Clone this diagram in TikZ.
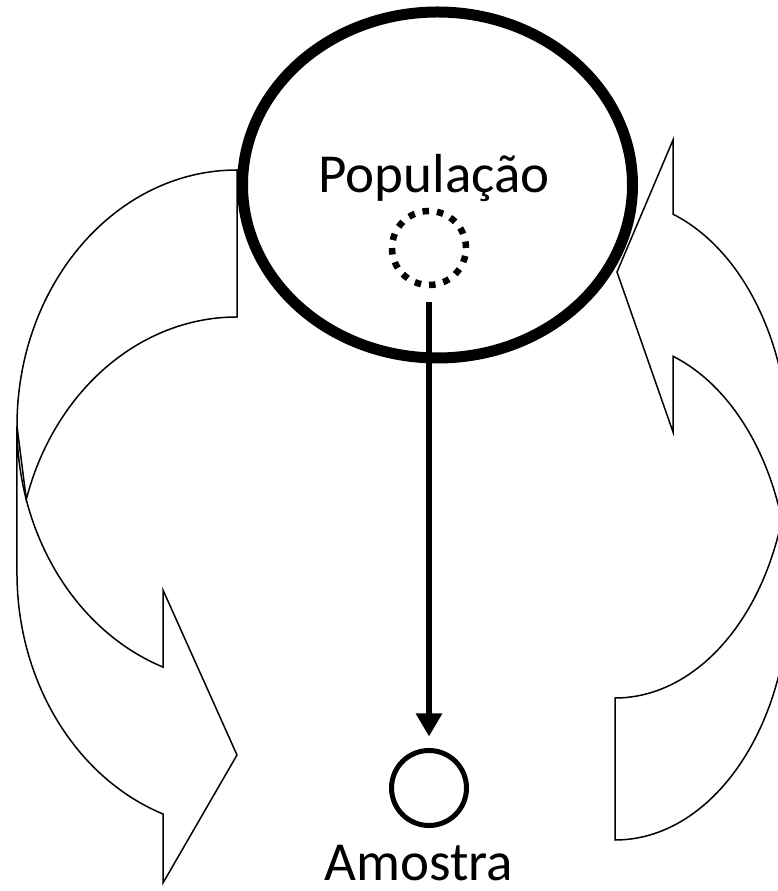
\documentclass[tikz,border=0pt]{standalone}
\usepackage{fontspec}
\setmainfont{Carlito}
\usetikzlibrary{arrows.meta}
\begin{document}
\begin{tikzpicture}[x=1pt,y=1pt,
  bigarrow/.style={draw=black, line width=1.5pt, line join=miter},
  lbl/.style={font=\fontsize{55}{60}\selectfont, text=black, inner sep=0pt, anchor=base}]
\useasboundingbox (0,0) rectangle (778,891);
\clip (0,0) rectangle (778,891);
% left curved arrow: back part
\draw[bigarrow] (17,465) arc[start angle=180,end angle=90,x radius=220,y radius=256]
  -- (237,574) arc[start angle=90,end angle=163.3,x radius=220,y radius=256] -- cycle;
% left curved arrow: front part
\draw[bigarrow] (17,465) arc[start angle=180,end angle=250.35,x radius=220,y radius=256]
  -- (163,301) -- (237,136) -- (163,8) -- (163,77)
  arc[start angle=250.35,end angle=180,x radius=220,y radius=256] -- cycle;
% right curved arrow: back part
\draw[bigarrow] (789,300) arc[start angle=0,end angle=-90,x radius=174,y radius=249]
  -- (615,193) arc[start angle=-90,end angle=-16.57,x radius=174,y radius=249] -- cycle;
% right curved arrow: front part
\draw[bigarrow] (789,300) arc[start angle=0,end angle=70.53,x radius=174,y radius=249]
  -- (673,459) -- (617,619) -- (673,751) -- (673,676.8)
  arc[start angle=70.53,end angle=0,x radius=174,y radius=249] -- cycle;
% population
\draw[line width=11pt] (437.5,706) ellipse [x radius=195, y radius=173];
\node[lbl] (poptext) at (434,698) {População};
\node[circle, draw, line width=6.5pt, dash pattern=on 6.5pt off 8.03pt, minimum size=74pt, inner sep=0pt] (sub) at (429,643) {};
% sample
\node[circle, draw, line width=5pt, minimum size=75pt, inner sep=0pt] (samp) at (429,103) {};
\node[lbl] (samptext) at (419,10) {Amostra};
\draw[line width=6pt, -{Triangle[width=25pt,length=23pt]}, shorten <=14pt, shorten >=11.5pt] (sub.south) -- (samp.north);
\end{tikzpicture}
\end{document}
